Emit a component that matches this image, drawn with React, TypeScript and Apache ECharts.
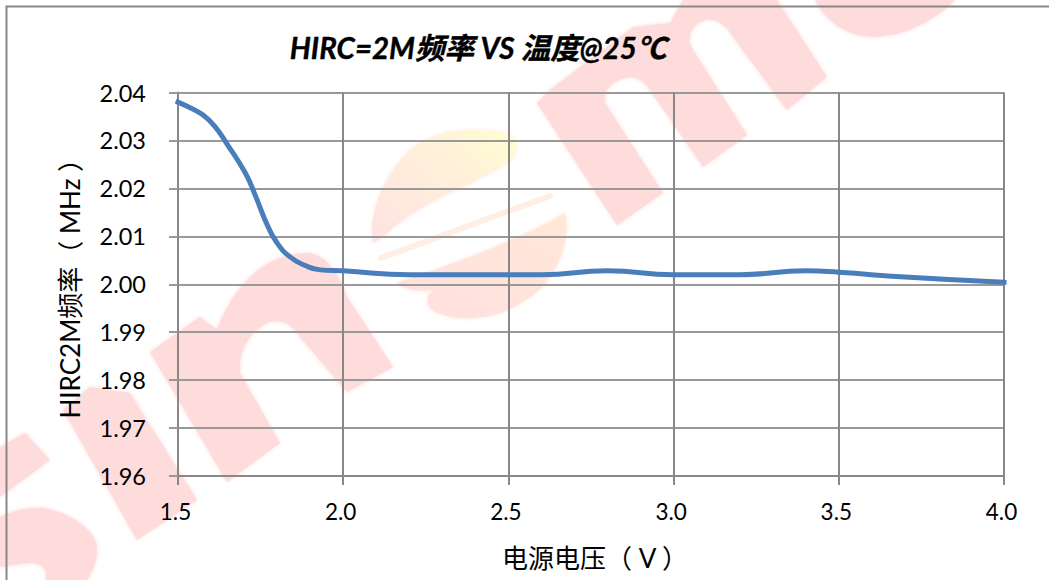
import React, { useEffect, useRef } from "react";
import * as echarts from "echarts";

const titleText = "HIRC=2M频率 VS 温度@25℃";
const xAxisName = "电源电压（ V ）";
const yAxisName = "HIRC2M频率（ MHz ）";

const voltage = [1.5, 1.54, 1.576, 1.612, 1.647, 1.703, 1.733, 1.768, 1.799, 1.839, 1.885, 1.93, 2.0, 2.2, 2.4, 2.6, 2.8, 3.0, 3.2, 3.4, 3.5, 3.7, 4.0];
const frequency = [2.038, 2.0367, 2.0353, 2.0329, 2.0294, 2.0233, 2.0187, 2.0127, 2.0087, 2.0057, 2.0039, 2.003, 2.0028, 2.002, 2.002, 2.002, 2.0028, 2.002, 2.002, 2.0028, 2.0025, 2.0015, 2.0004];

const WM = "#ffdcdc";
const shapes: Record<string, string> = {
  wmN: "M150 352 L200 317 L217 330 C235 280 270 253 307 253 C325 253 340 275 347 297 L393 367 L347 392 L300 337 C290 322 280 320 270 322 C250 330 238 350 240 373 L280 443 L227 482 Z",
  wmM: "M537 103 L550 90 L633 27 L670 23 L683 0 L777 0 L827 77 L787 110 L733 37 C725 22 712 18 705 20 C692 25 688 35 690 45 L747 135 L703 167 L650 90 C642 78 632 76 625 78 C610 82 603 92 605 103 L663 193 L617 225 Z",
  wmC: "M815 0 C830 30 860 40 885 36 C915 32 940 15 955 0 Z",
  wmS: "M0 447 L25 433 L50 460 L0 497 Z M0 517 C15 510 30 507 43 508 C70 512 95 530 97 547 C98 560 92 572 87 580 L45 580 C50 570 40 562 30 563 C18 564 8 566 0 567 Z",
  wmSunTop: "M372 233 C372 205 385 175 410 150 C430 135 450 130 475 130 C495 130 510 132 514 140 C518 150 515 158 507 163 C495 170 480 178 465 186 C440 196 420 208 400 222 C390 230 380 240 373 243 Z",
  wmSunLow: "M397 283 C450 265 520 240 565 213 C572 240 555 285 525 300 C500 320 450 325 430 308 C425 300 427 295 435 290 C420 292 405 290 397 283 Z",
};
Object.entries(shapes).forEach(([name, d]) => {
  echarts.graphic.registerShape(name, echarts.graphic.extendPath(d, {}));
});

const fontLatin = 'Lato, "Noto Sans CJK SC", sans-serif';

export default function App() {
  const ref = useRef<HTMLDivElement>(null);
  useEffect(() => {
    document.body.style.margin = "0";
    const chart = echarts.init(ref.current!, undefined, { renderer: "svg" });
    const gridLine = { color: "#888888", width: 2 };
    const sunGrad = new echarts.graphic.LinearGradient(1, 0, 0, 1, [
      { offset: 0, color: "#ffffcf" },
      { offset: 0.3, color: "#fff3d8" },
      { offset: 1, color: "#ffe2e2" },
    ]);
    const lowGrad = new echarts.graphic.LinearGradient(1, 0, 0, 1, [
      { offset: 0, color: "#ffe8d8" },
      { offset: 1, color: "#ffe0e0" },
    ]);
    const soft = (fill: any) => ({ fill, shadowBlur: 4, shadowColor: typeof fill === "string" ? fill : "#ffe6e0" });
    chart.setOption({
      animation: false,
      backgroundColor: "#ffffff",
      title: {
        text: titleText,
        left: 473,
        top: 28,
        textAlign: "center",
        textStyle: { fontFamily: fontLatin, fontSize: 29.5, fontWeight: "bold", fontStyle: "italic", color: "#000", textBorderColor: "#000", textBorderWidth: 0.4 },
      },
      grid: { left: 178, right: 45, top: 92.5, bottom: 104, containLabel: false },
      xAxis: {
        type: "value",
        min: 1.5,
        max: 4,
        interval: 0.5,
        name: xAxisName,
        nameLocation: "middle",
        nameGap: 69,
        nameTextStyle: { fontFamily: fontLatin, fontSize: 26, color: "#000", padding: [0, 0, 0, 8] },
        axisLine: { show: true, onZero: false, lineStyle: gridLine },
        axisTick: { show: true, length: 9, lineStyle: gridLine },
        splitLine: { show: true, lineStyle: gridLine },
        axisLabel: { margin: 24, padding: [0, 5, 0, 0], fontFamily: fontLatin, fontSize: 22.5, color: "#000", formatter: (v: number) => v.toFixed(1) },
      },
      yAxis: {
        type: "value",
        min: 1.96,
        max: 2.04,
        interval: 0.01,
        name: yAxisName,
        nameLocation: "middle",
        nameRotate: 90,
        nameGap: 95,
        nameTextStyle: { fontFamily: fontLatin, fontSize: 26, color: "#000", padding: [0, 0, 0, 4] },
        axisLine: { show: true, onZero: false, lineStyle: gridLine },
        axisTick: { show: true, length: 9, lineStyle: { color: "#999999", width: 2 } },
        splitLine: { show: true, lineStyle: { color: "#999999", width: 2 } },
        axisLabel: { margin: 32, padding: [0, 0, 5, 0], fontFamily: fontLatin, fontSize: 23.5, color: "#000", formatter: (v: number) => v.toFixed(2) },
      },
      graphic: {
        elements: [
          { type: "wmN", z: -2, style: soft(WM) },
          { type: "wmM", z: -2, style: soft(WM) },
          { type: "wmC", z: -2, style: soft(WM) },
          { type: "wmS", z: -2, style: soft(WM) },
          { type: "polygon", z: -2, shape: { points: [[63, 410], [90, 387], [130, 393], [197, 500], [137, 540]] }, style: soft(WM) },
          { type: "wmSunTop", z: -2, style: soft(sunGrad) },
          { type: "wmSunLow", z: -2, style: soft(lowGrad) },
          { type: "line", z: -2, shape: { x1: 381, y1: 258, x2: 550, y2: 196 }, style: { stroke: "#ffeee4", lineWidth: 6, lineCap: "round" } },
          { type: "rect", z: -1, shape: { x: 6.5, y: 6.5, width: 1200, height: 800 }, style: { fill: "transparent", stroke: "#888888", lineWidth: 2 } },
        ],
      },
      series: [
        {
          type: "line",
          data: voltage.map((v, i) => [v, frequency[i]]),
          smooth: 0.5,
          showSymbol: false,
          symbol: "none",
          clip: false,
          lineStyle: { color: "#4a7ebb", width: 5, cap: "square" },
        },
      ],
    });
    return () => chart.dispose();
  }, []);
  return <div ref={ref} style={{ width: 1049, height: 580 }} />;
}
